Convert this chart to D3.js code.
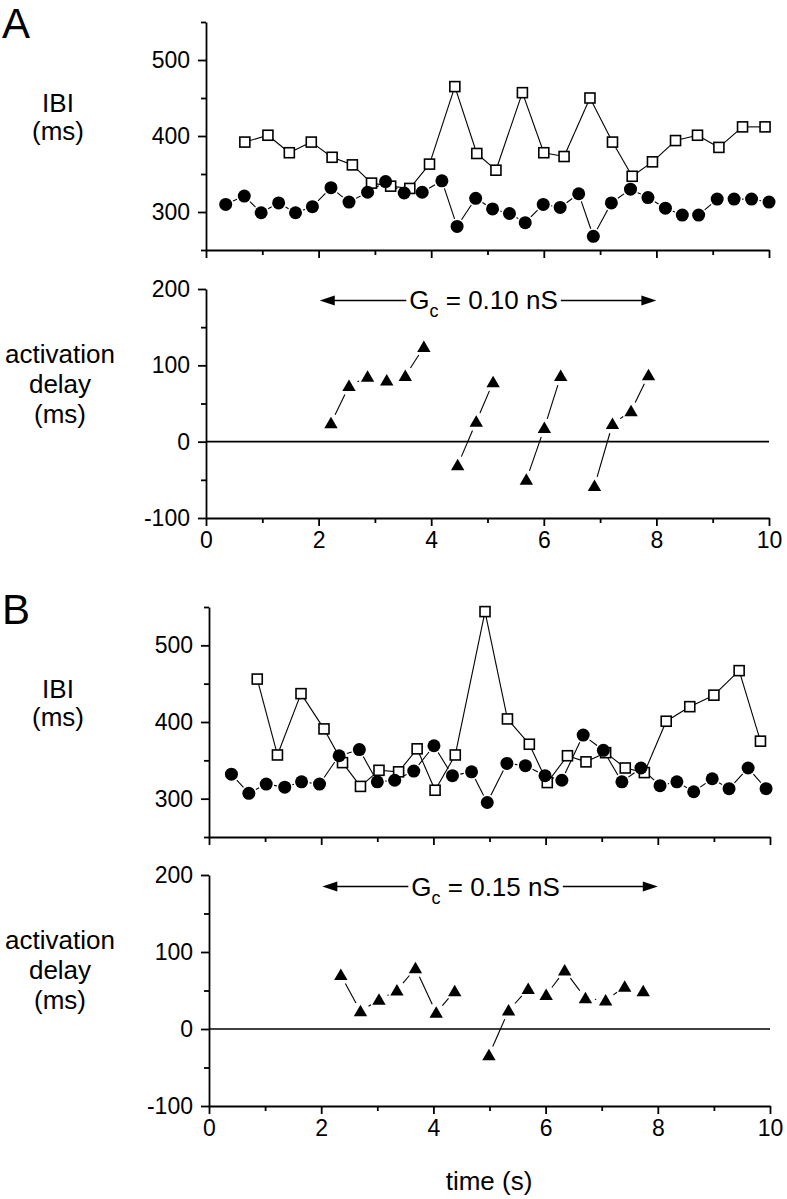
<!DOCTYPE html>
<html><head><meta charset="utf-8">
<script src="https://cdn.jsdelivr.net/npm/d3@7"></script>
<style>body{margin:0;background:#fff}</style>
</head><body>
<svg id="c" width="787" height="1199"></svg>
<script>
// ---------- data ----------
// Panel A: IBI open squares
const aOpenT = [0.69,1.10,1.48,1.87,2.24,2.60,2.94,3.28,3.62,3.97,4.42,4.81,5.15,5.62,6.00,6.36,6.82,7.22,7.57,7.93,8.34,8.73,9.11,9.53,9.93];
const aOpenV = [392,401,378,392,372,362,338,334,331,363,465,377,355,457,378,373,450,392,347,366,394,401,385,412,412];
// Panel A: IBI filled circles
const aFilledT = [0.35,0.68,0.98,1.29,1.59,1.89,2.22,2.54,2.87,3.19,3.52,3.84,4.19,4.46,4.79,5.09,5.39,5.67,5.99,6.29,6.62,6.88,7.20,7.54,7.85,8.16,8.46,8.75,9.08,9.38,9.69,10.0];
const aFilledV = [310,321,299,312,299,307,332,313,326,340,325,326,341,281,318,304,298,286,310,306,324,268,312,330,319,305,296,296,317,317,317,313];
// Panel A: activation delay triangles
const aDelayT = [2.22,2.54,2.87,3.21,3.54,3.87,4.47,4.80,5.10,5.69,6.01,6.30,6.90,7.22,7.55,7.86];
const aDelayV = [24,73,85,80,86,124,-31,26,78,-50,18,86,-58,23,40,87];
const aDelaySeg = [1,1,1,1,1,1,2,2,2,3,3,3,4,4,4,4];
// Panel B: IBI open squares
const bOpenT = [0.86,1.22,1.64,2.05,2.38,2.70,3.03,3.38,3.71,4.03,4.39,4.92,5.32,5.71,6.03,6.39,6.72,7.07,7.42,7.76,8.15,8.57,9.00,9.45,9.83];
const bOpenV = [456,357,437,391,347,316,337,335,365,311,357,544,404,371,321,356,348,360,340,334,401,420,435,467,375];
// Panel B: IBI filled circles
const bFilledT = [0.40,0.71,1.02,1.35,1.65,1.97,2.32,2.68,3.00,3.31,3.65,4.01,4.34,4.68,4.96,5.31,5.64,5.99,6.29,6.67,7.03,7.36,7.70,8.04,8.34,8.64,8.97,9.27,9.61,9.93];
const bFilledV = [332,307,319,315,322,319,356,364,322,324,336,369,330,335,295,346,343,330,324,383,363,322,340,317,322,309,326,313,340,313];
// Panel B: activation delay triangles
const bDelayT = [2.35,2.70,3.03,3.35,3.68,4.05,4.38,4.99,5.34,5.69,6.01,6.34,6.71,7.07,7.41,7.74];
const bDelayV = [70,23,38,50,79,21,49,-34,24,52,44,76,40,37,55,49];
const bDelaySeg = [1,1,1,1,1,1,1,2,2,2,2,2,2,2,2,2];
// ticks & labels
const ibiMajor = [300,400,500];
const ibiMinor = [250,350,450,550];
const delayMajor = [-100,0,100,200];
const delayMinor = [-50,50,150];
const timeMajor = [0,2,4,6,8,10];
const timeMinor = [1,3,5,7,9];
const panelLetters = ["A","B"];
const gcLabels = ["0.10 nS","0.15 nS"];
const timeLabel = "time (s)";

// ---------- drawing ----------
const FONT = "'Liberation Sans', Arial, Helvetica, sans-serif";
const svg = d3.select('#c');
const plainFmt = d => String(d);

function styleAxis(g){
  g.selectAll('path,line').attr('stroke','#000').attr('stroke-width',1.8);
  g.selectAll('text').attr('font-family',FONT).attr('font-size',23).attr('fill','#000');
  g.attr('font-family',null).attr('font-size',null);
}

function yAxis(x0, y, major, minor){
  const g1 = svg.append('g').attr('transform',`translate(${x0},0)`)
    .call(d3.axisLeft(y).tickValues(major).tickSize(8).tickPadding(8).tickSizeOuter(0).tickFormat(plainFmt));
  styleAxis(g1);
  const g2 = svg.append('g').attr('transform',`translate(${x0},0)`)
    .call(d3.axisLeft(y).tickValues(minor).tickSize(5).tickSizeOuter(0).tickFormat(''));
  g2.select('.domain').remove();
  styleAxis(g2);
}
function xAxis(y0, x, labelled){
  const g1 = svg.append('g').attr('transform',`translate(0,${y0})`)
    .call(d3.axisBottom(x).tickValues(timeMajor).tickSize(8).tickPadding(6).tickSizeOuter(0)
      .tickFormat(labelled ? plainFmt : ''));
  styleAxis(g1);
  const g2 = svg.append('g').attr('transform',`translate(0,${y0})`)
    .call(d3.axisBottom(x).tickValues(timeMinor).tickSize(5).tickSizeOuter(0).tickFormat(''));
  g2.select('.domain').remove();
  styleAxis(g2);
}

function connect(g, x, y, T, V, seg, r, gap){
  for(let i=1;i<T.length;i++){
    if(seg && seg[i]!==seg[i-1]) continue;
    const x1=x(T[i-1]), y1=y(V[i-1]), x2=x(T[i]), y2=y(V[i]);
    const dx=x2-x1, dy=y2-y1, d=Math.hypot(dx,dy);
    const s=r+gap; if(d<=2*s+1) continue;
    const ux=dx/d, uy=dy/d;
    g.append('line').attr('x1',x1+ux*s).attr('y1',y1+uy*s).attr('x2',x2-ux*s).attr('y2',y2-uy*s)
      .attr('stroke','#000').attr('stroke-width',1.1);
  }
}
function squares(g,x,y,T,V){
  g.selectAll(null).data(T).enter().append('rect')
    .attr('x',d=>x(d)-5).attr('y',(d,i)=>y(V[i])-5).attr('width',10).attr('height',10)
    .attr('fill','#fff').attr('stroke','#000').attr('stroke-width',1.6);
}
function circles(g,x,y,T,V){
  g.selectAll(null).data(T).enter().append('circle')
    .attr('cx',d=>x(d)).attr('cy',(d,i)=>y(V[i])).attr('r',6.5).attr('fill','#000');
}
function triangles(g,x,y,T,V){
  g.selectAll(null).data(T).enter().append('path')
    .attr('d',(d,i)=>{const px=x(d), py=y(V[i]); return `M${px},${py-6.5}L${px+6.7},${py+5}L${px-6.7},${py+5}Z`;})
    .attr('fill','#000');
}

function arrowAnno(x, yv, label){
  const g = svg.append('g');
  const t = g.append('text').attr('font-family',FONT).attr('font-size',26).attr('fill','#000')
    .attr('x', x(4.93)).attr('y', yv+9).attr('text-anchor','middle');
  t.append('tspan').text('G');
  t.append('tspan').attr('font-size',18).attr('dy',8).text('c');
  t.append('tspan').attr('dy',-8).text(' = ' + label);
  const bb = t.node().getBBox();
  const L = x(2.02), R = x(8.0), ah = 15, hw = 5;
  g.append('line').attr('x1',L+ah-1).attr('x2',bb.x-3).attr('y1',yv).attr('y2',yv).attr('stroke','#000').attr('stroke-width',1.5);
  g.append('line').attr('x1',bb.x+bb.width+3).attr('x2',R-ah+1).attr('y1',yv).attr('y2',yv).attr('stroke','#000').attr('stroke-width',1.5);
  g.append('path').attr('d',`M${L},${yv}L${L+ah},${yv-hw}L${L+ah},${yv+hw}Z`).attr('fill','#000');
  g.append('path').attr('d',`M${R},${yv}L${R-ah},${yv-hw}L${R-ah},${yv+hw}Z`).attr('fill','#000');
}

function sideLabel(lines, cx, baselines){
  lines.forEach((s,i)=>{
    svg.append('text').attr('font-family',FONT).attr('font-size',26).attr('fill','#000')
      .attr('text-anchor','middle').attr('x',cx).attr('y',baselines[i]).text(s);
  });
}

const panels = [
  {letter:panelLetters[0], dy:0, x0:206, x1:769, ibiTop:22, ibiBot:250, delTop:289, delBot:518,
   openT:aOpenT, openV:aOpenV, filT:aFilledT, filV:aFilledV, dT:aDelayT, dV:aDelayV, dS:aDelaySeg, gc:gcLabels[0]},
  {letter:panelLetters[1], dy:586, x0:209, x1:770, ibiTop:607, ibiBot:837, delTop:875, delBot:1106,
   openT:bOpenT, openV:bOpenV, filT:bFilledT, filV:bFilledV, dT:bDelayT, dV:bDelayV, dS:bDelaySeg, gc:gcLabels[1]}
];

panels.forEach(p=>{
  const x = d3.scaleLinear().domain([0,10]).range([p.x0,p.x1]);
  const yI = d3.scaleLinear().domain([250,550]).range([p.ibiBot,p.ibiTop]);
  const yD = d3.scaleLinear().domain([-100,200]).range([p.delBot,p.delTop]);

  svg.append('text').attr('font-family',FONT).attr('font-size',42).attr('fill','#000')
    .attr('x',2).attr('y',38+p.dy).text(p.letter);
  sideLabel(['IBI','(ms)'], 58, [112+p.dy, 140+p.dy]);
  sideLabel(['activation','delay','(ms)'], 60, [363+p.dy, 393+p.dy, 423+p.dy]);

  svg.append('line').attr('x1',x(0)).attr('x2',x(10)).attr('y1',yD(0)).attr('y2',yD(0))
    .attr('stroke','#000').attr('stroke-width',1.6);

  yAxis(p.x0, yI, ibiMajor, ibiMinor);
  yAxis(p.x0, yD, delayMajor, delayMinor);
  xAxis(p.ibiBot, x, false);
  xAxis(p.delBot, x, true);

  const g = svg.append('g');
  connect(g, x, yI, p.openT, p.openV, null, 0, 0);
  connect(g, x, yI, p.filT, p.filV, null, 6.5, 1.5);
  squares(g, x, yI, p.openT, p.openV);
  circles(g, x, yI, p.filT, p.filV);
  connect(g, x, yD, p.dT, p.dV, p.dS, 6.5, 3);
  triangles(g, x, yD, p.dT, p.dV);

  arrowAnno(x, yD(185), p.gc);
});

svg.append('text').attr('font-family',FONT).attr('font-size',26).attr('fill','#000')
  .attr('text-anchor','middle').attr('x',489).attr('y',1190).text(timeLabel);
</script>
</body></html>
